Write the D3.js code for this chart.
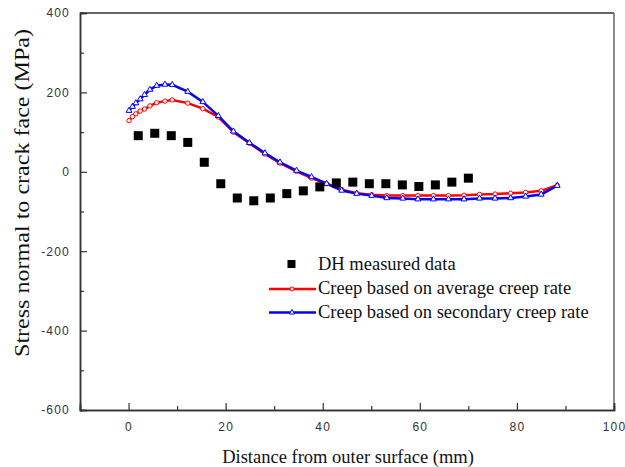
<!DOCTYPE html>
<html>
<head>
<meta charset="utf-8">
<script src="https://cdn.jsdelivr.net/npm/d3@7"></script>
<style>
  body { margin: 0; background: #fff; }
  .tick-lab text { font-family: "Liberation Sans", Arial, sans-serif; font-size: 12px; letter-spacing: 1.2px; fill: #333; }
  .title { font-family: "Liberation Serif", "Times New Roman", serif; font-size: 18.5px; fill: #111; }
</style>
</head>
<body>
<div id="chart"></div>
<script>
// measured data (DH)
const dhX = [2, 5.4, 8.8, 12.2, 15.6, 19, 22.4, 25.8, 29.2, 32.6, 36, 39.4, 42.8, 46.2, 49.6, 53, 56.4, 59.8, 63.2, 66.6, 70];
const dhY = [91, 97, 91, 74, 24, -30, -66, -73, -66, -55, -48, -38, -28, -26, -30, -30, -33, -37, -33, -26, -16];

// creep curves share the same positions
const creepX = [0.1, 0.8, 1.5, 2.4, 3.3, 4.4, 5.8, 7.5, 9.0, 12.2, 15.3, 18.5, 21.6, 24.9, 28.1, 31.2, 34.6, 37.7,
  40.8, 43.9, 47.0, 50.1, 53.2, 56.5, 59.6, 62.8, 65.9, 69.1, 72.3, 75.5, 78.7, 81.8, 85.0, 88.3];
const avgY = [129, 139, 146, 153, 158, 166, 174, 178, 181, 173, 159, 138, 100, 72, 45, 22, 1, -16,
  -30, -45, -54, -58, -60, -60, -60, -60, -60, -59, -57, -56, -54, -52, -48, -34];
const secY = [154, 164, 173, 183, 194, 207, 217, 220, 219, 202, 176, 141, 102, 73, 47, 24, 3, -13,
  -30, -47, -55, -60, -66, -67, -69, -69, -69, -69, -67, -67, -66, -62, -57, -35];

const xMajor = [0, 20, 40, 60, 80, 100];
const xMinor = [-10, 10, 30, 50, 70, 90];
const yMajor = [400, 200, 0, -200, -400, -600];
const yMinor = [300, 100, -100, -300, -500];

const legendLabels = ['DH measured data', 'Creep based on average creep rate', 'Creep based on secondary creep rate'];

const width = 625, height = 467;
const margin = { top: 13, right: 11, bottom: 57, left: 80 };
const w = width - margin.left - margin.right;
const h = height - margin.top - margin.bottom;

const svg = d3.select('#chart').append('svg')
  .attr('width', width)
  .attr('height', height);

const g = svg.append('g')
  .attr('transform', 'translate(' + margin.left + ',' + margin.top + ')');

const x = d3.scaleLinear().domain([-10, 100]).range([0, w]);
const y = d3.scaleLinear().domain([-600, 400]).range([h, 0]);

// frame
g.append('line').attr('x1', 0).attr('x2', w).attr('y1', 0).attr('y2', 0)
  .attr('stroke', '#333').attr('stroke-width', 1.5);
g.append('line').attr('x1', w).attr('x2', w).attr('y1', 0).attr('y2', h)
  .attr('stroke', '#666').attr('stroke-width', 1.5);

// axes with inward ticks, plain hyphen for negatives
const plain = d => String(d);

g.append('g').attr('class', 'tick-lab')
  .attr('transform', 'translate(0,' + h + ')')
  .call(d3.axisBottom(x).tickValues(xMajor).tickSize(-7).tickPadding(12).tickFormat(plain));
g.append('g')
  .attr('transform', 'translate(0,' + h + ')')
  .call(d3.axisBottom(x).tickValues(xMinor).tickSize(-4).tickFormat(''));

g.append('g').attr('class', 'tick-lab')
  .call(d3.axisLeft(y).tickValues(yMajor).tickSize(-7).tickPadding(10).tickFormat(plain));
g.append('g')
  .call(d3.axisLeft(y).tickValues(yMinor).tickSize(-4).tickFormat(''));

g.selectAll('.domain').attr('stroke', '#333').attr('stroke-width', 1.5);
g.selectAll('.tick line').attr('stroke', '#333').attr('stroke-width', 1.2);
g.selectAll('.tick text').attr('font-size', null).attr('font-family', null);

// curves
const line = d3.line()
  .x(function(d) { return x(d[0]); })
  .y(function(d) { return y(d[1]); });

const avgData = creepX.map((v, i) => [v, avgY[i]]);
const secData = creepX.map((v, i) => [v, secY[i]]);

g.append('path').datum(avgData)
  .attr('fill', 'none').attr('stroke', '#ff0000').attr('stroke-width', 2.5)
  .attr('d', line);
g.append('path').datum(secData)
  .attr('fill', 'none').attr('stroke', '#0000ff').attr('stroke-width', 2.5)
  .attr('d', line);

const tri = d3.symbol().type(d3.symbolTriangle).size(15);

g.selectAll('.avg-pt').data(avgData).enter()
  .append('circle')
  .attr('class', 'avg-pt')
  .attr('cx', d => x(d[0])).attr('cy', d => y(d[1]))
  .attr('r', 2.2)
  .attr('fill', '#fff').attr('stroke', '#ff0000').attr('stroke-width', 1);

g.selectAll('.sec-pt').data(secData).enter()
  .append('path')
  .attr('class', 'sec-pt')
  .attr('transform', d => 'translate(' + x(d[0]) + ',' + y(d[1]) + ')')
  .attr('d', tri)
  .attr('fill', '#fff').attr('stroke', '#0000ff').attr('stroke-width', 1);

// measured squares
g.selectAll('.dh').data(dhX).enter()
  .append('rect')
  .attr('class', 'dh')
  .attr('x', (d) => x(d) - 4.5)
  .attr('y', (d, i) => y(dhY[i]) - 4.5)
  .attr('width', 9).attr('height', 9)
  .attr('fill', '#000');

// legend
const legend = svg.append('g').attr('transform', 'translate(269,264)');
legend.append('rect').attr('x', 18.5).attr('y', -4).attr('width', 8).attr('height', 8).attr('fill', '#000');

const legColors = ['#ff0000', '#0000ff'];
legColors.forEach(function(c, i) {
  const yy = 25 + i * 23.5;
  legend.append('line').attr('x1', 0).attr('x2', 47).attr('y1', yy).attr('y2', yy)
    .attr('stroke', c).attr('stroke-width', 2.5);
  if (i === 0) {
    legend.append('circle').attr('cx', 23).attr('cy', yy).attr('r', 2)
      .attr('fill', '#fff').attr('stroke', c).attr('stroke-width', 1);
  } else {
    legend.append('path').attr('transform', 'translate(23,' + yy + ')')
      .attr('d', d3.symbol().type(d3.symbolTriangle).size(12))
      .attr('fill', '#fff').attr('stroke', c).attr('stroke-width', 1);
  }
});

legendLabels.forEach(function(t, i) {
  legend.append('text').attr('class', 'title')
    .attr('x', 49).attr('y', i * 24 + 6)
    .text(t);
});

// axis titles
svg.append('text').attr('class', 'title')
  .attr('x', 348).attr('y', 463)
  .attr('text-anchor', 'middle')
  .text('Distance from outer surface (mm)');

svg.append('text').attr('class', 'title')
  .attr('transform', 'translate(29,193) rotate(-90)')
  .attr('text-anchor', 'middle')
  .attr('textLength', 328)
  .attr('lengthAdjust', 'spacingAndGlyphs')
  .style('font-size', '21px')
  .text('Stress normal to crack face (MPa)');
</script>
</body>
</html>
